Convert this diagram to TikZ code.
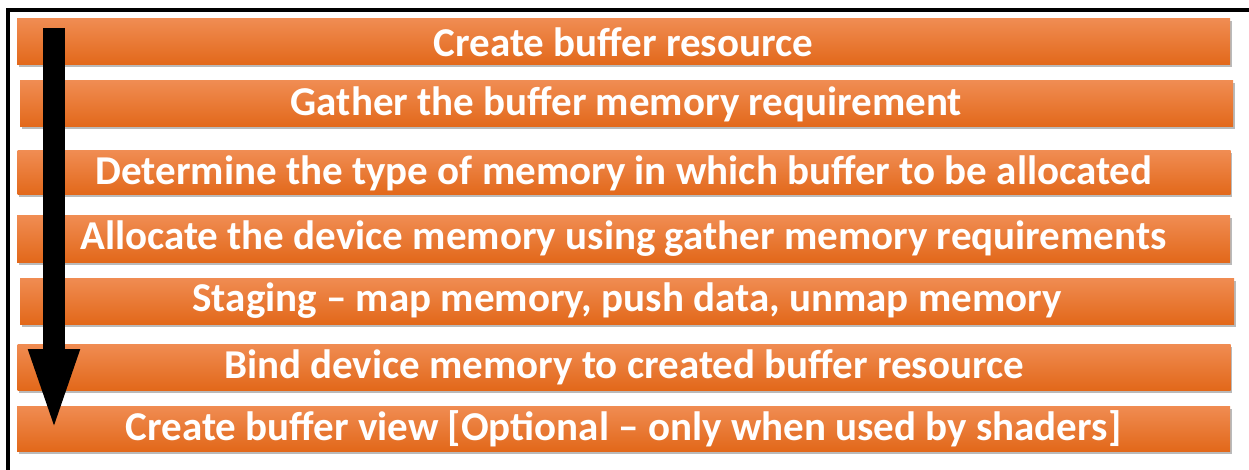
\documentclass[tikz,border=0pt]{standalone}
\usepackage{fontspec}
\setmainfont{Carlito}
\usetikzlibrary{shadows,arrows.meta}
\definecolor{orT}{HTML}{F08C52}
\definecolor{orM}{HTML}{F47C27}
\definecolor{orB}{HTML}{E2681A}
\tikzset{
  bar/.style={rectangle, minimum width=1213pt, minimum height=46pt, inner sep=0pt,
    top color=orT, middle color=orM, bottom color=orB,
    drop shadow={shadow xshift=1.5pt, shadow yshift=-2.5pt, fill=black!45, opacity=0.6},
    text=white, font=\bfseries\fontsize{41}{46}\selectfont},
  flowarrow/.style={line width=22pt, -{Triangle[width=44pt,length=88pt]}}
}
\begin{document}
\begin{tikzpicture}[x=1pt,y=1pt]
\useasboundingbox (0,0) rectangle (1249,-470);
\fill[white] (0,0) rectangle (1249,-470);
\draw[line width=4pt] (8,-480) -- (8,-10) -- (1260,-10);
\node[bar] (b1) at (623.5,-42) {Create buffer resource};
\node[bar] (b2) at (626.5,-104) {Gather the buffer memory requirement};
\node[bar, minimum height=44pt] (b3) at (624,-173) {Determine the type of memory in which buffer to be allocated};
\node[bar] (b4) at (623.5,-239) {Allocate the device memory using gather memory requirements};
\node[bar, minimum width=1214pt] (b5) at (627,-301) {Staging -- map memory, push data, unmap memory};
\node[bar] (b6) at (624,-367) {Bind device memory to created buffer resource};
\node[bar, minimum height=45pt] (b7) at (623.5,-428.5) {Create buffer view [Optional -- only when used by shaders]};
\coordinate (as) at (54,-28);
\coordinate (ae) at (54,-437);
\draw[flowarrow] (as) -- (ae);
\end{tikzpicture}
\end{document}
